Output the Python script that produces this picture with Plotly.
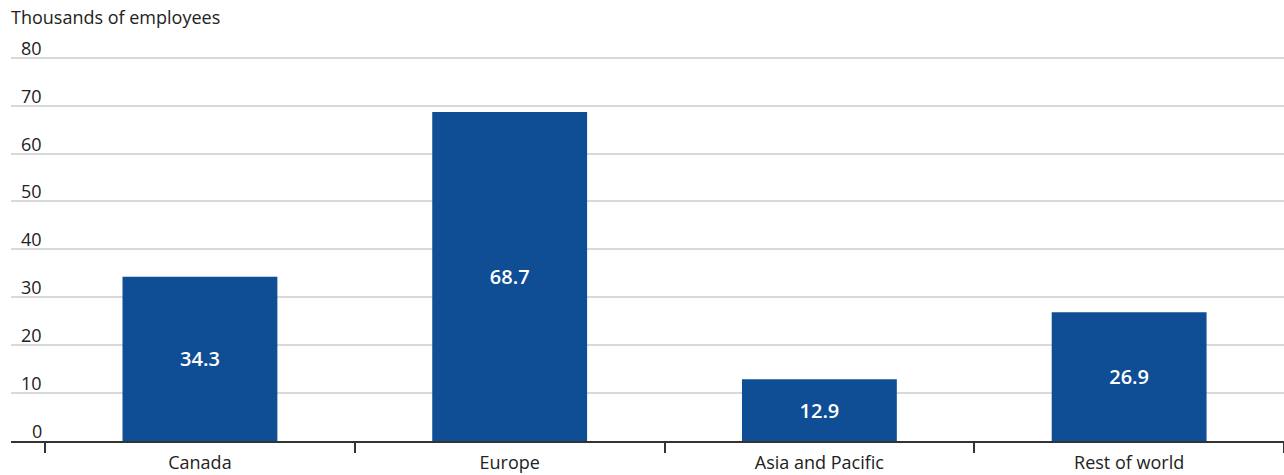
import plotly.graph_objects as go

regions = ["Canada", "Europe", "Asia and Pacific", "Rest of world"]
employees = [34.3, 68.7, 12.9, 26.9]
y_ticks = [0, 10, 20, 30, 40, 50, 60, 70, 80]

FONT = "Open Sans"
BAR_COLOR = "#0F4E95"
TEXT_COLOR = "#222222"

fig = go.Figure(
    go.Bar(
        x=regions,
        y=employees,
        marker=dict(color=BAR_COLOR, line=dict(width=0)),
        text=[f"{v:.1f}" for v in employees],
        textposition="inside",
        insidetextanchor="middle",
        textfont=dict(family=FONT, size=20, color="white", weight=600),
        hoverinfo="x+y",
    )
)

# Value-axis labels sit just above their gridlines, right-aligned near the left edge
tick_annotations = [
    dict(
        text=str(t),
        xref="paper", yref="y",
        x=0, y=t,
        xanchor="right", yanchor="bottom",
        xshift=33, yshift=-4,
        showarrow=False,
        font=dict(family=FONT, size=18, color=TEXT_COLOR),
    )
    for t in y_ticks
]

fig.update_layout(
    width=1284,
    height=475,
    margin=dict(l=11, r=0, t=53, b=34),
    paper_bgcolor="white",
    plot_bgcolor="white",
    bargap=0.5,
    showlegend=False,
    font=dict(family=FONT, size=18, color=TEXT_COLOR),
    annotations=[
        dict(
            text="Thousands of employees",
            xref="paper", yref="paper",
            x=0, y=1, xanchor="left", yanchor="bottom",
            xshift=-2, yshift=22,
            showarrow=False,
            font=dict(family=FONT, size=18, color=TEXT_COLOR),
        )
    ] + tick_annotations,
)

fig.update_xaxes(
    type="category",
    range=[-0.61, 3.5],
    showgrid=False,
    showline=True,
    linecolor="#333333",
    linewidth=2,
    ticks="outside",
    tickson="boundaries",
    ticklen=10,
    tickwidth=1.5,
    tickcolor="#333333",
    ticklabelstandoff=4,
    tickfont=dict(family=FONT, size=18, color=TEXT_COLOR),
    fixedrange=True,
)

fig.update_yaxes(
    range=[0, 81],
    tickvals=y_ticks,
    showticklabels=False,
    showgrid=True,
    gridcolor="#d9d9d9",
    gridwidth=2,
    zeroline=False,
    showline=False,
    ticks="",
    fixedrange=True,
)

fig.write_html("out.html")
